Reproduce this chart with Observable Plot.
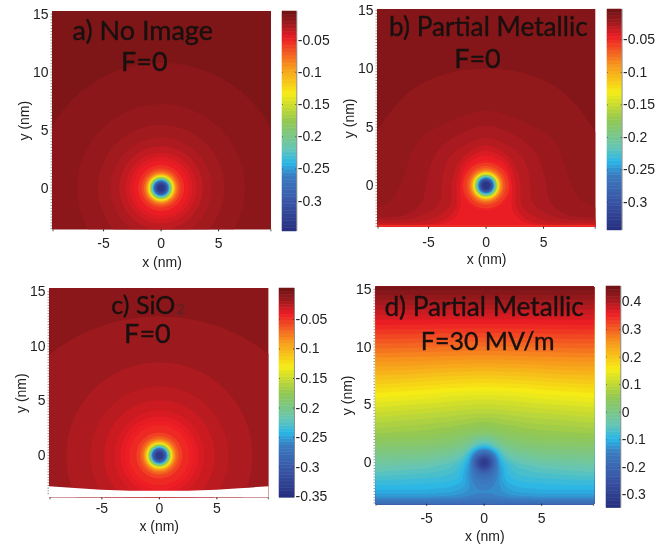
<!DOCTYPE html>
<html><head><meta charset="utf-8">
<script src="https://cdn.jsdelivr.net/npm/d3@7"></script>
<script src="https://cdn.jsdelivr.net/npm/@observablehq/plot@0.6"></script>
<style>
html,body{margin:0;padding:0;background:#fff;width:667px;height:544px;overflow:hidden}
.p{position:absolute}
.p svg{display:block;overflow:visible;background:transparent;filter:blur(.4px)}
</style></head><body><div id="root"></div>
<script>
// --- colour map (position along the bar, 0 = bottom, 1 = top) ---
const mapStops  = [0, .125, .25, .31, .375, .5, .625, .75, .875, .94, 1];
const mapColors = ["#262e7e","#3953a4","#3a7cc0","#29b6e8","#66c6b4","#93c852","#f6ec14","#f7941d","#ed1c24","#a01a1e","#6d1214"];

// --- ticks ---
const barTicksNeg  = [-0.05,-0.1,-0.15,-0.2,-0.25,-0.3];
const barTicksC    = [-0.05,-0.1,-0.15,-0.2,-0.25,-0.3,-0.35];
const barTicksD    = [0.4,0.3,0.2,0.1,0,-0.1,-0.2,-0.3];

// --- inner ring of the well, common look: potential and radius (nm) ---
const wellLevels = [-.056,-.065,-.075,-.085,-.095,-.105,-.115,-.125,-.135,-.145,-.155,-.165,-.175,-.185,-.195,-.205,-.215,-.225,-.235,-.245,-.255,-.265,-.275,-.285,-.295,-.305,-.32,-.335];
const wellRadii  = [2.0,1.7,1.5,1.36,1.27,1.2,1.14,1.1,1.06,1.02,.98,.94,.91,.88,.85,.82,.79,.76,.73,.7,.67,.64,.61,.58,.55,.5,.42,.3];

// --- a) No Image: circular contours ---
const aLevels = [-.0178,-.0215,-.026,-.03,-.035,-.04,-.044,-.048];
const aRadii  = [10.9,7.3,5.5,4.4,3.65,3.1,2.72,2.4];

// --- c) SiO2: circular contours, with centre height ---
const cLevels  = [-.0175,-.023,-.027,-.032,-.036,-.04,-.043,-.047];
const cRadii   = [15.5,8.1,6.0,4.8,3.9,3.4,3.0,2.6];
const cCentreY = [-3.6,0,0,0,0,0,0,0];
const cBottomX = [-9.6,-7,-5,-2.5,0,2.5,5,7,9.6];
const cBottomY = [-2.86,-3.05,-3.2,-3.27,-3.28,-3.27,-3.2,-3.05,-2.86];

// --- b) Partial Metallic: contour outlines (level, x list, y list) ---
const bLevels = [-.0178,-.0215,-.026,-.03,-.035,-.04,-.045];
const bXs = [
 [-10.5,-9.5,-8,-6,-3,0,3,6,8,9.5,10.5,12,12,-12,-12],
 [-11,-9.45,-8.3,-7.4,-6.8,-5.9,-3.4,0,3.4,5.9,6.8,7.4,8.3,9.45,11,12,-12],
 [-11,-9.5,-7,-5.6,-5.1,-4.4,-2.5,0,2.5,4.4,5.1,5.6,7,9.5,11,12,-12],
 [-11,-9.5,-6,-4.1,-3.8,-3.1,-1.7,0,1.7,3.1,3.8,4.1,6,9.5,11,12,-12],
 [-11,-9.5,-5,-3.2,-2.95,-2.3,-1.3,0,1.3,2.3,2.95,3.2,5,9.5,11,12,-12],
 [-11,-9.5,-4,-2.7,-2.55,-2.0,-1.2,0,1.2,2.0,2.55,2.7,4,9.5,11,12,-12],
 [-11,-9.5,-3.5,-2.35,-2.25,-1.75,-1,0,1,1.75,2.25,2.35,3.5,9.5,11,12,-12]
];
const bYs = [
 [3,4.6,6.7,8.5,9.7,10,9.7,8.5,6.7,4.6,3,-6,-7,-7,-6],
 [-2.2,-1.85,-1.3,.13,1.85,3.85,5.4,6.4,5.4,3.85,1.85,.13,-1.3,-1.85,-2.2,-7,-7],
 [-2.85,-2.75,-2.5,-1.43,.7,2.7,4.3,5.1,4.3,2.7,.7,-1.43,-2.5,-2.75,-2.85,-7,-7],
 [-3.05,-3.0,-2.7,-1.57,.7,2.5,3.55,4.1,3.55,2.5,.7,-1.57,-2.7,-3.0,-3.05,-7,-7],
 [-3.25,-3.2,-2.95,-1.85,.4,2.1,3,3.45,3,2.1,.4,-1.85,-2.95,-3.2,-3.25,-7,-7],
 [-3.4,-3.35,-3.1,-2.0,.3,1.9,2.6,3.0,2.6,1.9,.3,-2.0,-3.1,-3.35,-3.4,-7,-7],
 [-3.5,-3.45,-3.2,-2.2,.2,1.7,2.3,2.6,2.3,1.7,.2,-2.2,-3.2,-3.45,-3.5,-7,-7]
];
const bRingLevels = [-.048];
const bRingRadii  = [2.2];
const bStripLevels = [-.052];
const bStripTop    = [-3.42];

// --- d) Partial Metallic, F=30 MV/m: potential read at these points ---
const dColsX = [0,.5,.9,1.3,2,3,5,9.6];
const dRowsY = [15.3,12,9,6,4,2.5,1.5,.8,.3,0,-.3,-.8,-1.5,-2.5,-3,-3.3,-3.6];
const dRow0  = [.456,.456,.456,.456,.456,.456,.456,.456];
const dRow1  = [.358,.358,.358,.358,.358,.358,.359,.36];
const dRow2  = [.26,.26,.26,.261,.261,.262,.264,.267];
const dRow3  = [.148,.148,.148,.149,.15,.152,.158,.168];
const dRow4  = [.085,.085,.086,.087,.09,.093,.098,.108];
const dRow5  = [.03,.033,.036,.04,.045,.052,.06,.068];
const dRow6  = [-.07,-.055,-.03,-.01,.01,.02,.03,.035];
const dRow7  = [-.2,-.17,-.12,-.07,-.025,-.008,.005,.012];
const dRow8  = [-.31,-.26,-.17,-.095,-.05,-.03,-.012,-.005];
const dRow9  = [-.345,-.28,-.19,-.105,-.065,-.045,-.027,-.015];
const dRow10 = [-.31,-.26,-.18,-.115,-.075,-.055,-.04,-.027];
const dRow11 = [-.21,-.19,-.16,-.125,-.08,-.065,-.055,-.045];
const dRow12 = [-.155,-.15,-.14,-.12,-.09,-.08,-.075,-.07];
const dRow13 = [-.13,-.13,-.128,-.125,-.115,-.105,-.1,-.1];
const dRow14 = [-.14,-.14,-.138,-.135,-.13,-.125,-.12,-.12];
const dRow15 = [-.165,-.165,-.162,-.16,-.155,-.15,-.15,-.15];
const dRow16 = [-.2,-.2,-.2,-.2,-.2,-.2,-.2,-.2];
const dRows = [dRow0,dRow1,dRow2,dRow3,dRow4,dRow5,dRow6,dRow7,dRow8,dRow9,dRow10,dRow11,dRow12,dRow13,dRow14,dRow15,dRow16];

// --- layout of the panels ---
const TITLE = "Lato", SANS = "Liberation Sans, Arial, sans-serif", INK = "#17100f";
const root = document.getElementById("root");

function colorOf(lo, hi){
  return {type:"linear", domain: mapStops.map(t => lo + t*(hi-lo)), range: mapColors, clamp:true, interpolate:"rgb"};
}
function place(svg, left, top){
  const d = document.createElement("div");
  d.className = "p"; d.style.left = left+"px"; d.style.top = top+"px";
  d.appendChild(svg); root.appendChild(d);
}
function panel(o){
  const ML=50, MT=10, MB=46;
  const fw=o.frame[1]-o.frame[0], fh=o.frame[3]-o.frame[2];
  const pxPerNm = fw/(o.x[1]-o.x[0]);
  const svg = Plot.plot({
    width: fw+ML, height: fh+MT+MB,
    marginLeft:ML, marginTop:MT, marginBottom:MB, marginRight:0,
    style:{fontFamily:SANS, background:"transparent", overflow:"visible"},
    x:{domain:o.x}, y:{domain:o.y},
    r:{type:"linear", domain:[0,1], range:[0,pxPerNm]},
    color:colorOf(o.lo,o.hi),
    marks:[
      Plot.rect([o.base],{x1:o.x[0],x2:o.x[1],y1:o.y[0],y2:o.y[1],fill:d=>d}),
      ...o.marks,
      Plot.axisX({ticks:[-5,0,5],tickSize:2,tickPadding:o.tickPad,fontSize:14,label:"x (nm)",labelAnchor:"center",labelArrow:"none",labelOffset:o.labelOff,tickFormat:d=>String(d),color:"#222"}),
      Plot.axisX({ticks:[o.x[0]+.05,o.x[1]-.05],tickSize:2,tickFormat:()=>"",label:null,color:"#555"}),
      Plot.axisY({ticks:d3.range(-3.5,15.1,.25),tickSize:1.5,tickFormat:()=>"",label:null,color:"#999"}),
      Plot.axisY({ticks:[0,5,10,15],tickSize:0,tickPadding:4,fontSize:14,label:"y (nm)",labelAnchor:"center",labelArrow:"none",labelOffset:33.5,tickFormat:d=>String(d),color:"#222"}),
      ...o.titles.map(t=>Plot.text([t.text],{x:()=>t.x,y:()=>t.y,text:d=>d,fontSize:t.size||27,fontFamily:TITLE,fill:t.fill||INK,stroke:t.fill||INK,strokeWidth:.35}))
    ]
  });
  place(svg, o.frame[0]-ML, o.frame[2]-MT);
}
function colorbar(o){
  const ML=0, MT=4, MB=4, MR=44;
  const w=o.box[1]-o.box[0], h=o.box[3]-o.box[2];
  const dv=(o.hi-o.lo)/64;
  const levels=d3.range(0,64).map(i=>o.lo+i*dv);
  const svg = Plot.plot({
    width:w+MR, height:h+MT+MB,
    marginLeft:ML, marginTop:MT, marginBottom:MB, marginRight:MR,
    style:{fontFamily:SANS, background:"transparent", overflow:"visible"},
    x:{domain:[0,1],axis:null}, y:{domain:[o.lo,o.hi],axis:null},
    color:colorOf(o.lo,o.hi),
    marks:[
      Plot.rect(levels,{x1:0,x2:1,y1:d=>d,y2:d=>d+dv,fill:d=>d+dv/2,stroke:d=>d+dv/2,strokeWidth:.5}),
      Plot.ruleY(o.ticks,{x1:0,x2:.06,stroke:"#333",strokeOpacity:.7}),
      Plot.ruleY(o.ticks,{x1:.94,x2:1,stroke:"#333"}),
      Plot.ruleX([1],{y1:o.lo,y2:o.hi,stroke:"#777",strokeWidth:.8}),
      Plot.axisY({anchor:"right",ticks:o.ticks,tickSize:0,tickPadding:1,fontSize:14,label:null,tickFormat:d=>String(d),color:"#222"})
    ]
  });
  place(svg, o.box[0]-ML, o.box[2]-MT);
}
function rings(levels, radii, cy){
  const rows = levels.map((v,i)=>({v, r:radii[i], y:cy?cy[i]:0}));
  return Plot.dot(rows,{x:()=>0,y:"y",r:"r",fill:"v",stroke:"none",clip:true});
}
function outlines(levels, xs, ys){
  const rows = levels.flatMap((v,i)=>xs[i].map((x,j)=>({v,x,y:ys[i][j],i})));
  return Plot.line(rows,{x:"x",y:"y",z:"i",fill:"v",stroke:null,curve:"catmull-rom-closed",clip:true});
}

// a)
panel({frame:[51.7,270.7,10.7,229], x:[-9.44,9.6], y:[-3.6,15.22], lo:-.347, hi:-.0057, base:-.0125, tickPad:6, labelOff:37,
  marks:[rings(aLevels,aRadii), rings(wellLevels,wellRadii)],
  titles:[{text:"a) No Image",x:-1.6,y:13.5},{text:"F=0",x:-1.46,y:10.8}]});
colorbar({box:[281.7,296,10.7,230.7], lo:-.347, hi:-.0057, ticks:barTicksNeg});

// b)
panel({frame:[376.7,595,9,226.7], x:[-9.44,9.54], y:[-3.57,15.08], lo:-.343, hi:-.0033, base:-.0125, tickPad:8, labelOff:37,
  marks:[outlines(bLevels,bXs,bYs),
    Plot.rect(bStripLevels,{x1:-9.44,x2:9.54,y1:-3.57,y2:()=>bStripTop[0],fill:d=>d}),
    rings(bRingLevels,bRingRadii), rings(wellLevels,wellRadii)],
  titles:[{text:"b) Partial Metallic",x:.2,y:13.5,size:26.2},{text:"F=0",x:-.75,y:10.85}]});
colorbar({box:[606.7,621.3,9,230], lo:-.343, hi:-.0033, ticks:barTicksNeg});

// c)
panel({frame:[49.3,268.7,287.7,497], x:[-9.55,9.52], y:[-3.88,15.3], lo:-.352, hi:.002, base:-.0104, tickPad:3, labelOff:33,
  marks:[rings(cLevels,cRadii,cCentreY), rings(wellLevels,wellRadii),
    Plot.areaY(cBottomX.map((x,i)=>({x,y:cBottomY[i]})),{x:"x",y1:-3.88,y2:"y",fill:"#fff",curve:"monotone-x",clip:true})],
  titles:[{text:"c) SiO",x:-1.4,y:13.7,size:25},{text:"2",x:1.85,y:13.4,size:14,fill:"#5e2224"},{text:"F=0",x:-1.04,y:11.1}]});
colorbar({box:[279.3,294.3,287.7,497], lo:-.352, hi:.0024, ticks:barTicksC});

// d)
const dPoints = dRowsY.flatMap((y,r)=>dColsX.flatMap((x,c)=>{
  const p=[{x,y,v:dRows[r][c]}];
  if(x>0) p.push({x:-x,y,v:dRows[r][c]});
  return p;
}));
panel({frame:[375.3,594,286,503.7], x:[-9.45,9.57], y:[-3.6,15.24], lo:-.348, hi:.456, base:-.21, tickPad:7.3, labelOff:37.3,
  marks:[Plot.contour(dPoints,{x:"x",y:"y",fill:"v",interpolate:"barycentric",pixelSize:1,blur:1.5,
      thresholds:d3.range(-.348,.456,.0126),stroke:null})],
  titles:[{text:"d) Partial Metallic",x:0,y:13.4,size:26.2},{text:"F=30 MV/m",x:.3,y:10.4,size:25}]});
colorbar({box:[605.7,620,286,507.7], lo:-.348, hi:.456, ticks:barTicksD});
</script></body></html>
